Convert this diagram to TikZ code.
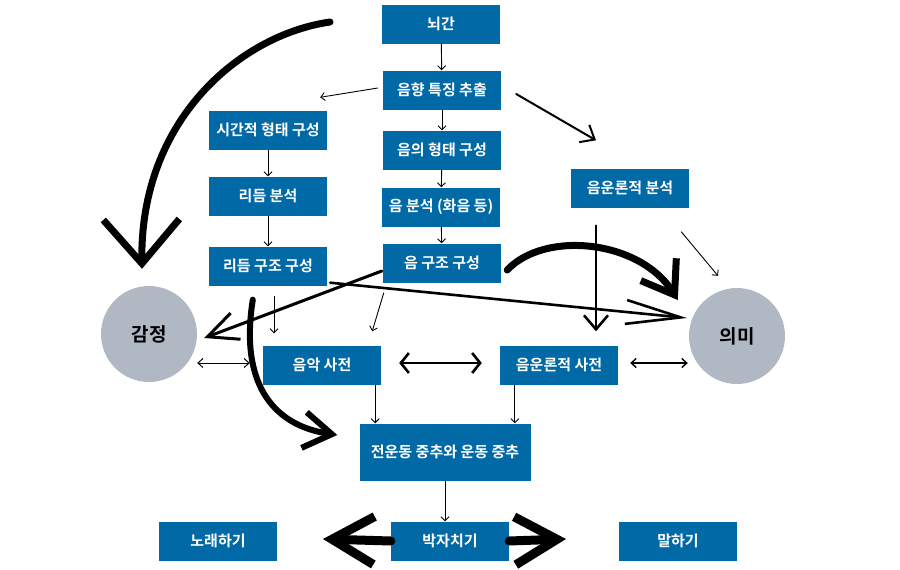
\documentclass[tikz,border=0pt]{standalone}
\usepackage{fontspec}
\newfontfamily\kofont{Noto Sans CJK KR Bold}
\usetikzlibrary{arrows.meta}
\definecolor{boxblue}{RGB}{0,105,166}
\definecolor{blobgray}{RGB}{176,184,196}
\tikzset{
  box/.style={fill=boxblue, text=white, font=\kofont\fontsize{15}{17}\selectfont,
    minimum width=118pt, minimum height=39pt, inner sep=0pt},
  blob/.style={circle, fill=blobgray, minimum size=96pt, inner sep=0pt,
    font=\kofont\fontsize{19}{21}\selectfont},
  flow/.style={-{Straight Barb[length=4pt,width=8pt]}, line width=0.9pt},
  flowboth/.style={{Straight Barb[length=5pt,width=9pt]}-{Straight Barb[length=5pt,width=9pt]}, line width=1pt},
  heavy/.style={-{Straight Barb[length=14pt,width=24pt]}, line width=2.6pt, line cap=round, line join=round},
  huge/.style={-{Straight Barb[length=32pt,width=44pt]}, line width=7pt, line cap=round, line join=round},
}
\begin{document}
\begin{tikzpicture}[x=1pt, y=-1pt]
    \useasboundingbox (0,0) rectangle (900,570);
    % boxes
    \node[box] (brainstem) at (441,24) {뇌간};
    \node[box] (feature) at (442,90) {음향 특징 추출};
    \node[box] (timeform) at (268,130) {시간적 형태 구성};
    \node[box] (pitchform) at (442,150) {음의 형태 구성};
    \node[box] (rhythm) at (268,196) {리듬 분석};
    \node[box] (pitch) at (441,207) {음 분석 (화음 등)};
    \node[box] (rhythmstruct) at (268,266) {리듬 구조 구성};
    \node[box] (pitchstruct) at (442,263) {음 구조 구성};
    \node[box] (phonan) at (630,188) {음운론적 분석};
    \node[box] (musiclex) at (322,365) {음악 사전};
    \node[box] (phonlex) at (559,365) {음운론적 사전};
    \node[box, minimum width=171pt, minimum height=57pt] (motor) at (445,452) {전운동 중추와 운동 중추};
    \node[box] (sing) at (218,541) {노래하기};
    \node[box] (tap) at (450,541) {박자치기};
    \node[box] (speak) at (678,541) {말하기};
    % circles
    \node[blob] (emotion) at (149,334) {감정};
    \node[blob] (meaning) at (737,336) {의미};
    % thin arrows
    \draw[flow] (brainstem) -- (feature);
    \draw[flow] (feature) -- (pitchform);
    \draw[flow] (pitchform) -- (pitch);
    \draw[flow] (pitch) -- (pitchstruct);
    \draw[flow] (timeform) -- (rhythm);
    \draw[flow] (rhythm) -- (rhythmstruct);
    \draw[flow] ([shift={(-5,-2)}]feature.west) -- ([shift={(-7,-13)}]timeform.north east);
    \draw[flow] ([shift={(6,10)}]rhythmstruct.south) -- ([shift={(-48,-12)}]musiclex.north);
    \draw[flow] ([shift={(1,10)}]pitchstruct.south west) -- ([shift={(-9,-14)}]musiclex.north east);
    \draw[flow] ([shift={(-8,24)}]phonan.south east) -- ([shift={(-19,-12)}]meaning.north);
    \draw[flow] ([xshift=-6pt]musiclex.south east) -- ([xshift=-6pt]musiclex.south east |- motor.north);
    \draw[flow] ([xshift=15pt]phonlex.south west) -- ([xshift=15pt]phonlex.south west |- motor.north);
    \draw[flow] (motor.south) -- (motor.south |- tap.north);
    \draw[flowboth] ([shift={(0,29)}]emotion.east) -- ([shift={(-13,-2)}]musiclex.west);
    \draw[flowboth, line width=1.4pt] ([shift={(12,-2)}]phonlex.east) -- ([shift={(-1,27)}]meaning.west);
    % thick arrows
    \draw[heavy, line width=2pt, -{Straight Barb[length=12pt,width=20pt]}] ([shift={(15,4)}]feature.east) -- ([shift={(-34,-28)}]phonan.north);
    \draw[heavy, {Straight Barb[length=8pt,width=20pt]}-{Straight Barb[length=8pt,width=20pt]}] ([shift={(18,-2)}]musiclex.east) -- ([shift={(-18,-2)}]phonlex.west);
    \draw[heavy] ([shift={(-34,18)}]phonan.south) -- ([shift={(37,-14)}]phonlex.north);
    \draw[heavy, line width=3pt, -{Straight Barb[length=30pt,width=28pt]}] ([shift={(-1,8)}]pitchstruct.west) -- ([shift={(7,4)}]emotion.east);
    \draw[heavy, -{Straight Barb[length=55pt,width=24pt]}] ([shift={(3,-3)}]rhythmstruct.south east) -- ([shift={(-2,-18)}]meaning.west);
    % big curved arrows
    \coordinate (topstart) at (330,22);
    \draw[huge, -{Straight Barb[length=44pt,width=76pt]}] (topstart) .. controls (240,35) and (140,120) .. ([shift={(-7,-17)}]emotion.north);
    \draw[huge, -{Straight Barb[length=30pt,width=42pt]}] ([shift={(6,7)}]pitchstruct.east) .. controls (545,230) and (640,240) .. ([shift={(-11,-36)}]meaning.west);
    \draw[huge, line width=6pt, -{Straight Barb[length=28pt,width=36pt]}] ([shift={(44,14)}]rhythmstruct.south west) .. controls (240,380) and (270,425) .. ([shift={(-22,-17)}]motor.west);
    \coordinate (singtip) at (323,539);
    \coordinate (speaktip) at (566,539);
    \draw[huge, line width=9pt, -{Straight Barb[length=42pt,width=48pt]}] (tap.west) -- (singtip);
    \draw[huge, line width=9pt, -{Straight Barb[length=42pt,width=48pt]}] (tap.east) -- (speaktip);
\end{tikzpicture}
\end{document}
